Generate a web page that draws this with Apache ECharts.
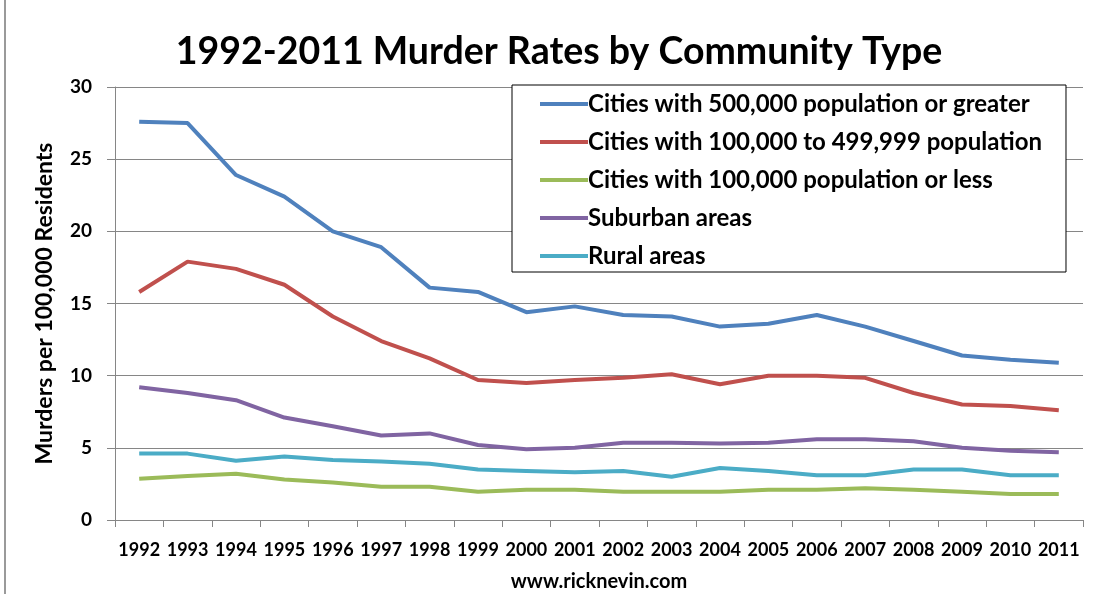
<!DOCTYPE html>
<html>
<head>
<meta charset="utf-8">
<script src="https://cdn.jsdelivr.net/npm/echarts@6/dist/echarts.min.js"></script>
<style>
  html, body { margin: 0; padding: 0; background: #fff; }
  #chart { width: 1098px; height: 594px; }
</style>
</head>
<body>
<div id="chart"></div>
<script>
// Murders per 100,000 residents, by community type, 1992-2011
const years = ['1992','1993','1994','1995','1996','1997','1998','1999','2000','2001',
               '2002','2003','2004','2005','2006','2007','2008','2009','2010','2011'];

const cities500k = [27.6, 27.5, 23.9, 22.4, 20.0, 18.9, 16.1, 15.8, 14.4, 14.8,
                    14.2, 14.1, 13.4, 13.6, 14.2, 13.4, 12.4, 11.4, 11.1, 10.9];
const cities100kTo500k = [15.8, 17.9, 17.4, 16.3, 14.1, 12.4, 11.2, 9.7, 9.5, 9.7,
                          9.85, 10.1, 9.4, 10.0, 10.0, 9.85, 8.8, 8.0, 7.9, 7.6];
const citiesUnder100k = [2.85, 3.05, 3.2, 2.8, 2.6, 2.3, 2.3, 1.95, 2.1, 2.1,
                         1.95, 1.95, 1.95, 2.1, 2.1, 2.2, 2.1, 1.95, 1.8, 1.8];
const suburban = [9.2, 8.8, 8.3, 7.1, 6.5, 5.85, 6.0, 5.2, 4.9, 5.0,
                  5.35, 5.35, 5.3, 5.35, 5.6, 5.6, 5.45, 5.0, 4.8, 4.7];
const rural = [4.6, 4.6, 4.1, 4.4, 4.15, 4.05, 3.9, 3.5, 3.4, 3.3,
               3.4, 3.0, 3.6, 3.4, 3.1, 3.1, 3.5, 3.5, 3.1, 3.1];

const seriesNames = ['Cities with 500,000 population or greater',
                     'Cities with 100,000 to 499,999 population',
                     'Cities with 100,000 population or less',
                     'Suburban areas',
                     'Rural areas'];
const seriesData = [cities500k, cities100kTo500k, citiesUnder100k, suburban, rural];
const seriesColors = ['#4F81BD', '#C0504D', '#9BBB59', '#8064A2', '#4BACC6'];

const yTicks = [0, 5, 10, 15, 20, 25, 30];

const FONT = 'Lato, "Open Sans", sans-serif';
const chart = echarts.init(document.getElementById('chart'), null, { renderer: 'canvas' });

chart.setOption({
  animation: false,
  backgroundColor: '#ffffff',
  title: {
    text: '1992-2011 Murder Rates by Community Type',
    left: 554, top: 28, textAlign: 'center',
    textStyle: { fontFamily: FONT, fontWeight: 'bold', fontSize: 37.5, color: '#000' }
  },
  legend: {
    orient: 'vertical',
    left: 512, top: 85,
    padding: [5, 24, 2, 28],
    itemGap: 10,
    itemWidth: 48, itemHeight: 4,
    backgroundColor: '#fff',
    borderColor: '#000', borderWidth: 1,
    icon: 'rect',
    textStyle: { fontFamily: FONT, fontWeight: 'bold', fontSize: 24, lineHeight: 28, color: '#000', padding: [0, 0, 0, -5] },
    data: seriesNames
  },
  grid: { left: 115, right: 15, top: 87, bottom: 74, outerBoundsMode: 'none' },
  xAxis: {
    type: 'category',
    data: years,
    boundaryGap: true,
    name: 'www.ricknevin.com',
    nameLocation: 'middle',
    nameGap: 52,
    nameTextStyle: { fontFamily: FONT, fontWeight: 'bold', fontSize: 20, color: '#000' },
    axisLine: { lineStyle: { color: '#868686', width: 1 } },
    axisTick: { show: true, length: 7, lineStyle: { color: '#868686' } },
    axisLabel: {
      margin: 21, interval: 0,
      fontFamily: FONT, fontWeight: 'bold', fontSize: 18, color: '#000'
    }
  },
  yAxis: {
    type: 'value',
    min: yTicks[0], max: yTicks[yTicks.length - 1], interval: 5,
    name: 'Murders per 100,000 Residents',
    nameLocation: 'middle',
    nameGap: 59,
    nameTextStyle: { fontFamily: FONT, fontWeight: 'bold', fontSize: 23, color: '#000' },
    axisLine: { show: true, lineStyle: { color: '#868686', width: 1 } },
    axisTick: { show: true, length: 8, lineStyle: { color: '#868686' } },
    axisLabel: { margin: 23, fontFamily: FONT, fontWeight: 'bold', fontSize: 19, color: '#000' },
    splitLine: { show: true, lineStyle: { color: '#868686', width: 1 } }
  },
  series: seriesNames.map((name, i) => ({
    name,
    type: 'line',
    data: seriesData[i],
    symbol: 'none',
    color: seriesColors[i],
    lineStyle: { width: 4, color: seriesColors[i] },
    z: 5 - i
  })),
  graphic: [{
    type: 'line',
    shape: { x1: 5, y1: 0, x2: 5, y2: 594 },
    style: { stroke: '#9a9a9a', lineWidth: 2 }
  }]
});
</script>
</body>
</html>
